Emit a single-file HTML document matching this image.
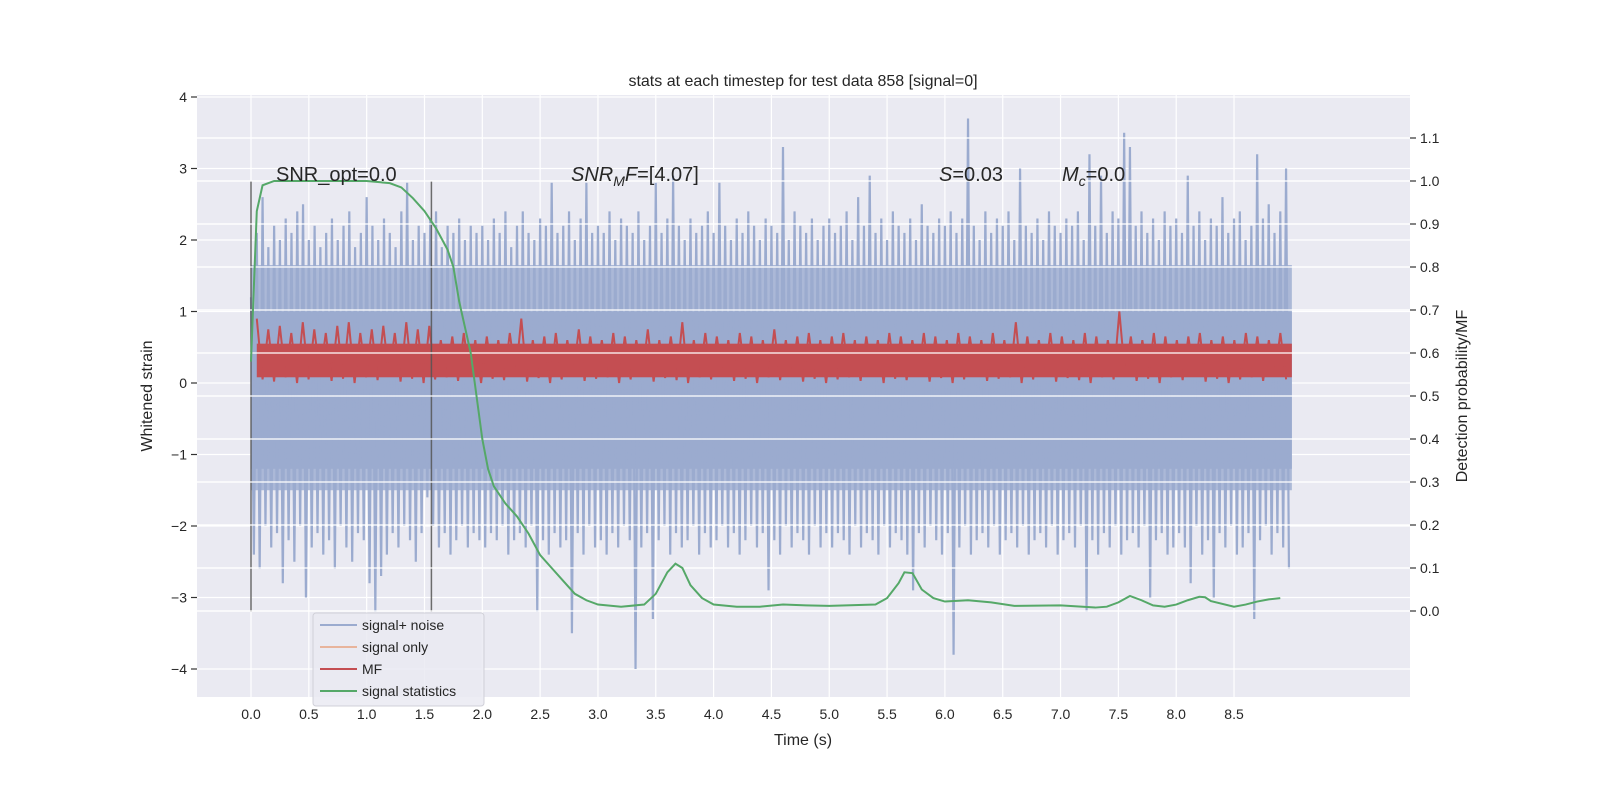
<!DOCTYPE html>
<html><head><meta charset="utf-8"><style>
body{margin:0;background:#fff;}
svg text{font-family:"Liberation Sans","DejaVu Sans",sans-serif;fill:#262626;}
</style></head><body>
<svg id="chart" width="1600" height="800" viewBox="0 0 1600 800" xmlns="http://www.w3.org/2000/svg">
<rect x="197" y="95" width="1213" height="602" fill="#eaeaf2"/>
<g id="grid"></g>
<g id="marks"></g>
<g id="axes"></g>
<text x="803" y="86" font-size="16" text-anchor="middle">stats at each timestep for test data 858 [signal=0]</text>
<text x="803" y="745" font-size="16" text-anchor="middle">Time (s)</text>
<text transform="translate(152,396) rotate(-90)" font-size="16" text-anchor="middle">Whitened strain</text>
<text transform="translate(1467,396) rotate(-90)" font-size="16" text-anchor="middle">Detection probability/MF</text>
<text x="276" y="181" font-size="20">SNR_opt=0.0</text>
<text x="571" y="181" font-size="20"><tspan font-style="italic">SNR</tspan><tspan font-style="italic" font-size="14" dy="5">M</tspan><tspan font-style="italic" dy="-5">F</tspan>=[4.07]</text>
<text x="939" y="181" font-size="20"><tspan font-style="italic">S</tspan>=0.03</text>
<text x="1062" y="181" font-size="20"><tspan font-style="italic">M</tspan><tspan font-style="italic" font-size="14" dy="5">c</tspan><tspan dy="-5">=0.0</tspan></text>
<g>
<rect x="313" y="613" width="171" height="93" rx="3" fill="#eaeaf2" fill-opacity="0.85" stroke="#d0d0d8"/>
<line x1="320" y1="625" x2="357" y2="625" stroke="#9babcf" stroke-width="2"/><text x="362" y="630" font-size="14">signal+ noise</text>
<line x1="320" y1="647" x2="357" y2="647" stroke="#e8b49c" stroke-width="2"/><text x="362" y="652" font-size="14">signal only</text>
<line x1="320" y1="669" x2="357" y2="669" stroke="#c44e52" stroke-width="2"/><text x="362" y="674" font-size="14">MF</text>
<line x1="320" y1="691" x2="357" y2="691" stroke="#55a868" stroke-width="2"/><text x="362" y="696" font-size="14">signal statistics</text>
</g>
</svg>
<script>
const xTicks=[0,0.5,1,1.5,2,2.5,3,3.5,4,4.5,5,5.5,6,6.5,7,7.5,8,8.5];
const yTicks=[-4,-3,-2,-1,0,1,2,3,4];
const rTicks=[0,0.1,0.2,0.3,0.4,0.5,0.6,0.7,0.8,0.9,1.0,1.1];
const noiseHi=[1.2,2.1,2.6,1.9,2.2,2.0,2.3,2.1,2.4,2.5,2.0,2.2,1.9,2.1,2.3,2.0,2.2,2.4,1.9,2.1,
2.6,2.2,2.0,2.3,2.1,1.9,2.4,2.8,2.0,2.2,2.1,2.3,2.4,1.9,2.2,2.1,2.3,2.0,2.2,2.1,
2.2,2.0,2.3,2.1,2.4,1.9,2.2,2.4,2.1,2.0,2.3,2.2,2.8,2.1,2.2,2.4,2.0,2.3,2.8,2.1,
2.2,2.1,2.4,2.0,2.3,2.2,2.1,2.4,2.0,2.2,2.8,2.1,2.3,2.9,2.2,2.0,2.3,2.1,2.2,2.4,
2.1,2.8,2.2,2.0,2.3,2.1,2.4,2.2,2.0,2.3,2.2,2.1,3.3,2.0,2.4,2.2,2.1,2.3,2.0,2.2,
2.3,2.1,2.2,2.4,2.0,2.6,2.2,2.9,2.1,2.3,2.0,2.4,2.2,2.1,2.3,2.0,2.5,2.2,2.1,2.3,
2.2,2.4,2.1,2.3,3.7,2.2,2.0,2.4,2.1,2.3,2.2,2.4,2.0,3.0,2.2,2.1,2.3,2.0,2.4,2.2,
2.1,2.3,2.2,2.4,2.0,3.2,2.2,2.9,2.1,2.4,2.3,3.5,3.3,2.2,2.4,2.1,2.3,2.0,2.4,2.2,
2.3,2.1,2.9,2.2,2.4,2.0,2.3,2.2,2.6,2.1,2.3,2.4,2.0,2.2,3.2,2.3,2.5,2.1,2.4,3.0];
const noiseLo=[-2.4,-2.6,-2.0,-2.3,-2.1,-2.8,-2.2,-2.5,-2.0,-3.0,-2.3,-2.1,-2.4,-2.2,-2.6,-2.0,-2.3,-2.5,-2.1,-2.2,
-2.8,-3.2,-2.7,-2.4,-2.1,-2.3,-2.0,-2.2,-2.5,-2.1,-1.6,-2.0,-2.3,-2.1,-2.4,-2.2,-2.0,-2.3,-2.1,-2.2,
-2.3,-2.1,-2.2,-2.0,-2.4,-2.2,-2.1,-2.3,-2.0,-3.2,-2.2,-2.4,-2.1,-2.3,-2.2,-3.5,-2.1,-2.4,-2.0,-2.3,
-2.2,-2.4,-2.1,-2.3,-2.0,-2.2,-4.0,-2.3,-2.1,-3.3,-2.2,-2.0,-2.4,-2.1,-2.3,-2.2,-2.0,-2.4,-2.1,-2.3,
-2.2,-2.0,-2.3,-2.1,-2.4,-2.2,-2.0,-2.3,-2.1,-2.9,-2.2,-2.4,-2.0,-2.3,-2.1,-2.2,-2.4,-2.0,-2.3,-2.1,
-2.3,-2.1,-2.2,-2.4,-2.0,-2.3,-2.1,-2.2,-2.4,-2.0,-2.3,-2.1,-2.2,-2.4,-2.9,-2.1,-2.3,-2.0,-2.2,-2.4,
-2.1,-3.8,-2.3,-2.0,-2.4,-2.2,-2.1,-2.3,-2.0,-2.4,-2.2,-2.1,-2.3,-2.0,-2.4,-2.2,-2.1,-2.3,-2.0,-2.4,
-2.2,-2.1,-2.3,-2.0,-3.2,-2.2,-2.4,-2.1,-2.3,-2.0,-2.4,-2.2,-2.1,-2.3,-2.0,-3.0,-2.2,-2.1,-2.4,-2.3,
-2.1,-2.3,-2.8,-2.0,-2.4,-2.2,-3.0,-2.1,-2.3,-2.0,-2.4,-2.3,-2.1,-3.3,-2.2,-2.0,-2.4,-2.1,-2.3,-2.6];
const mfHi=[0.9,0.75,0.8,0.7,0.85,0.75,0.7,0.8,0.85,0.7,0.75,0.8,0.7,0.85,0.75,0.8,0.6,0.65,0.7,0.6,0.65,0.6,0.7,0.9,0.6,0.65,0.7,0.6,0.75,0.65,0.6,0.7,0.65,0.6,0.75,0.6,0.65,0.85,0.6,0.7,0.65,0.6,0.7,0.65,0.6,0.75,0.6,0.65,0.7,0.6,0.65,0.7,0.6,0.65,0.6,0.7,0.65,0.6,0.7,0.65,0.6,0.7,0.65,0.6,0.7,0.6,0.85,0.65,0.6,0.7,0.65,0.6,0.7,0.65,0.6,1.0,0.65,0.6,0.7,0.65,0.6,0.65,0.7,0.6,0.65,0.6,0.7,0.65,0.6,0.7];
const mfLo=[0.05,0.02,0.08,0.0,0.05,0.1,0.03,0.06,0.0,0.08,0.04,0.1,0.02,0.06,0.0,0.05,0.08,0.03,0.1,0.0,0.06,0.04,0.09,0.02,0.07,0.0,0.05,0.1,0.03,0.06,0.08,0.0,0.05,0.09,0.02,0.07,0.04,0.0,0.08,0.05,0.1,0.03,0.06,0.0,0.08,0.04,0.1,0.02,0.06,0.0,0.05,0.08,0.03,0.1,0.0,0.06,0.04,0.09,0.02,0.07,0.0,0.05,0.1,0.03,0.06,0.08,0.0,0.05,0.09,0.02,0.07,0.04,0.0,0.08,0.05,0.1,0.03,0.06,0.0,0.08,0.04,0.1,0.02,0.06,0.0,0.05,0.08,0.03,0.1,0.05];
const statT=[0,0.05,0.1,0.2,0.6,1.0,1.2,1.3,1.4,1.5,1.6,1.7,1.75,1.8,1.9,1.95,2.0,2.05,2.1,2.2,2.3,2.4,2.5,2.6,2.7,2.8,2.9,3.0,3.2,3.4,3.5,3.6,3.67,3.73,3.8,3.9,4.0,4.2,4.4,4.6,4.8,5.0,5.4,5.5,5.6,5.65,5.72,5.8,5.9,6.0,6.2,6.4,6.6,7.0,7.3,7.4,7.5,7.6,7.7,7.8,7.9,8.0,8.1,8.2,8.25,8.3,8.5,8.6,8.7,8.8,8.9];
const statP=[0.58,0.93,0.99,1.0,1.0,1.0,0.995,0.985,0.96,0.93,0.89,0.84,0.8,0.72,0.6,0.5,0.4,0.33,0.29,0.25,0.22,0.18,0.13,0.1,0.07,0.04,0.025,0.015,0.01,0.015,0.04,0.09,0.11,0.1,0.06,0.03,0.015,0.01,0.01,0.015,0.013,0.012,0.015,0.03,0.065,0.09,0.088,0.05,0.03,0.022,0.025,0.02,0.012,0.013,0.008,0.01,0.02,0.035,0.025,0.013,0.01,0.015,0.025,0.033,0.032,0.023,0.01,0.015,0.022,0.027,0.03];
const markerT=[0,1.56];

const NS="http://www.w3.org/2000/svg";
const X=t=>251+t*115.65;
const Y=v=>383-v*71.5;
const R=p=>611-p*430;
const L=197,Rx=1410,T=95,B=697;
function mk(tag,attrs,parent){const e=document.createElementNS(NS,tag);for(const k in attrs)e.setAttribute(k,attrs[k]);parent.appendChild(e);return e;}
const grid=document.getElementById('grid'),marks=document.getElementById('marks'),axes=document.getElementById('axes');
xTicks.forEach(t=>{const l=mk('line',{x1:X(t),x2:X(t),y1:T,y2:B,stroke:'#fff','stroke-width':1.2},grid);

const tx=mk('text',{x:X(t),y:B+22,'font-size':14,'text-anchor':'middle'},axes);tx.textContent=t.toFixed(1);
});
yTicks.forEach(v=>{const l=mk('line',{x1:L,x2:Rx,y1:Y(v),y2:Y(v),stroke:'#fff','stroke-width':1.2},grid);

mk('line',{x1:L-6,x2:L,y1:Y(v),y2:Y(v),stroke:'#333','stroke-width':1.2},axes);
const tx=mk('text',{x:L-10,y:Y(v)+5,'font-size':14,'text-anchor':'end'},axes);tx.textContent=(v<0?'\u2212'+(-v):v);
});
rTicks.forEach(p=>{const l=mk('line',{x1:L,x2:Rx,y1:R(p),y2:R(p),stroke:'#fff','stroke-width':1.2},grid);

mk('line',{x1:Rx,x2:Rx+6,y1:R(p),y2:R(p),stroke:'#333','stroke-width':1.2},axes);
const tx=mk('text',{x:Rx+10,y:R(p)+5,'font-size':14},axes);tx.textContent=p.toFixed(1);
});
// noise
const nb2=mk('rect',{x:X(0),y:Y(1.65),width:X(9)-X(0),height:Y(-1.5)-Y(1.65),fill:'#9babcf','fill-opacity':0.8},marks);

const nb=mk('rect',{x:X(0),y:Y(1.0),width:X(9)-X(0),height:Y(-1.2)-Y(1.0),fill:'#9babcf'},marks);

const ns=1/20;let pts=[];
noiseHi.forEach((h,i)=>{const t=i*ns;pts.push(X(t)+','+Y(h));pts.push(X(t+ns*0.5)+','+Y(noiseLo[i]));});
const nl=mk('polyline',{points:pts.join(' '),fill:'none',stroke:'#9babcf','stroke-width':2.2},marks);

// MF
const mb=mk('rect',{x:X(0.05),y:Y(0.55),width:X(9)-X(0.05),height:Y(0.08)-Y(0.55),fill:'#c44e52'},marks);

const ms=0.1;pts=[];
mfHi.forEach((h,i)=>{const t=0.05+i*ms*(8.95/9);pts.push(X(t)+','+Y(h));pts.push(X(t+0.05)+','+Y(mfLo[i]));});
const ml=mk('polyline',{points:pts.join(' '),fill:'none',stroke:'#c44e52','stroke-width':2},marks);

markerT.forEach(t=>{const l=mk('line',{x1:X(t),x2:X(t),y1:Y(2.82),y2:Y(-3.2),stroke:'#555','stroke-width':1.5,'stroke-opacity':0.85},marks);
});
rTicks.forEach(p=>{const l=mk('line',{x1:L,x2:Rx,y1:R(p),y2:R(p),stroke:'#fff','stroke-width':1.2},marks);
});
const gp=statT.map((t,i)=>X(t)+','+R(statP[i])).join(' ');
const gl=mk('polyline',{points:gp,fill:'none',stroke:'#55a868','stroke-width':2},marks);

</script>
</body></html>
